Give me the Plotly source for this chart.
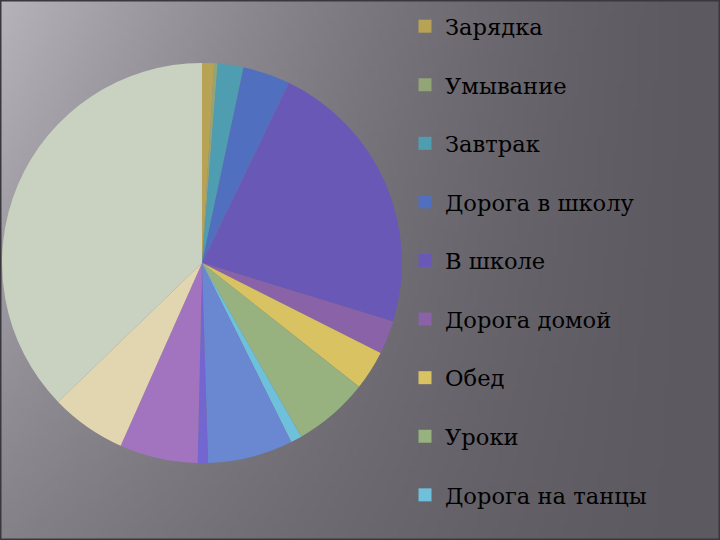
import base64, struct, zlib
import plotly.graph_objects as go

# ---- data ----
labels = ["Зарядка", "Умывание", "Завтрак", "Дорога в школу", "В школе",
          "Дорога домой", "Обед", "Уроки", "Дорога на танцы", "Танцы",
          "Дорога с танцев", "Ужин", "Свободное время", "Сон"]
minutes = [14, 4, 30, 55, 325, 39, 46, 88, 13, 99, 12, 91, 88, 536]
colors = ["#b8a255", "#92a577", "#4f9db0", "#5070bf", "#6a58b6",
          "#8a62a8", "#d9c262", "#97b27f", "#6fc0da", "#6a88d2",
          "#7466d0", "#a274c0", "#e2d6b0", "#c9d2c1"]
legend_count = 9  # the reference legend only shows the first nine entries

# ---- gradient background as a small PNG ----
W, H = 144, 108
TL = (182, 179, 186)
BASE = (92, 90, 96)
rows = []
for j in range(H):
    v = j / (H - 1)
    row = bytearray([0])
    for i in range(W):
        u = i / (W - 1)
        f = max(0.0, 1 - u) ** 1.5 * (1 - 0.55 * v)
        for k in range(3):
            row.append(int(BASE[k] + (TL[k] - BASE[k]) * f))
    rows.append(bytes(row))
raw = b"".join(rows)

def chunk(tag, data):
    return (struct.pack(">I", len(data)) + tag + data +
            struct.pack(">I", zlib.crc32(tag + data) & 0xffffffff))

png = (b"\x89PNG\r\n\x1a\n" +
       chunk(b"IHDR", struct.pack(">IIBBBBB", W, H, 8, 2, 0, 0, 0)) +
       chunk(b"IDAT", zlib.compress(raw, 9)) +
       chunk(b"IEND", b""))
bg_uri = "data:image/png;base64," + base64.b64encode(png).decode()

fig = go.Figure()
fig.add_trace(go.Pie(
    labels=labels, values=minutes, sort=False, direction="clockwise",
    rotation=0, textinfo="none", hoverinfo="label+value",
    marker=dict(colors=colors, line=dict(width=0)),
    domain=dict(x=[2 / 720, 402 / 720], y=[77 / 540, 477 / 540]),
    showlegend=False,
))
for i in range(legend_count):
    fig.add_trace(go.Scatter(
        x=[None], y=[None], mode="markers", name=labels[i],
        legendgroup=f"g{i}",
        marker=dict(symbol="square", size=13, color=colors[i]),
    ))

fig.update_layout(
    width=720, height=540,
    margin=dict(l=0, r=0, t=0, b=0),
    paper_bgcolor="#5c5a60", plot_bgcolor="rgba(0,0,0,0)",
    xaxis=dict(visible=False), yaxis=dict(visible=False),
    images=[dict(source=bg_uri, xref="paper", yref="paper", x=0, y=1,
                 sizex=1, sizey=1, sizing="stretch", layer="below")],
    shapes=[dict(type="rect", xref="paper", yref="paper", x0=0, y0=0, x1=1, y1=1,
                 line=dict(color="#3a383c", width=3), fillcolor="rgba(0,0,0,0)")],
    legend=dict(x=405 / 720, y=1 - 5 / 540, xanchor="left", yanchor="top",
                bgcolor="rgba(0,0,0,0)", tracegroupgap=26.2, maxheight=2000,
                font=dict(family="DejaVu Serif", size=22.6, color="#000000")),
    showlegend=True,
)
fig.write_html("out.html", config={"displayModeBar": False},
               post_script="document.body.style.margin='0';"
                           "document.body.style.overflow='hidden';")
